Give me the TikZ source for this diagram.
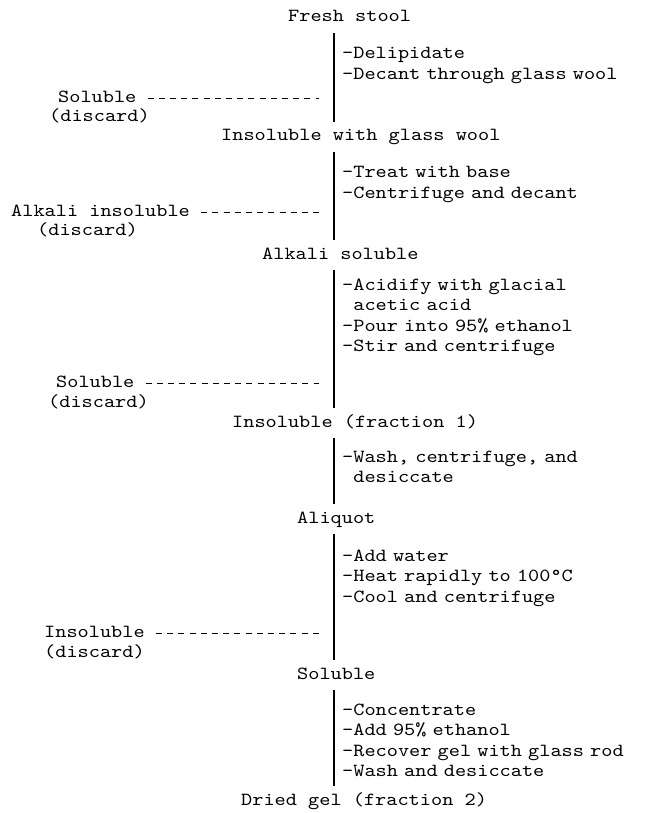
\documentclass[tikz,border=0pt]{standalone}
\usepackage{fontspec}
\newfontfamily\flowfont[Extension=.otf,FakeStretch=1.15]{lmmono10-regular}
\tikzset{
  every node/.style={font=\flowfont\fontsize{18.5}{20.5}\selectfont, inner sep=0pt, anchor=base west},
  stage/.style={inner ysep=7pt, text height=12pt, text depth=4pt},
  steps/.style={text width=310pt, align=left},
  waste/.style={text height=12pt, text depth=4pt},
  spine/.style={line width=1.1pt},
  drain/.style={line width=1pt, dash pattern=on 6pt off 5.2pt, shorten <=11pt, shorten >=15pt}
}
\begin{document}
\begin{tikzpicture}[x=1pt,y=-1pt]
\useasboundingbox (0,0) rectangle (652,813);
\coordinate (spine) at (334,0);
% stages
\node[stage] (fresh) at (288,22) {Fresh stool};
\node[stage] (wool) at (221,141) {Insoluble with glass wool};
\node[stage] (alksol) at (262,259) {Alkali soluble};
\node[stage] (frac1) at (232,427) {Insoluble (fraction 1)};
\node[stage] (aliquot) at (297,523) {Aliquot};
\node[stage] (hotsol) at (297,679) {Soluble};
\node[stage] (frac2) at (241,805) {Dried gel (fraction 2)};
% treatments
\node[steps] (step1) at (342,59) {-Delipidate\\-Decant through glass wool};
\node[steps] (step2) at (342,178) {-Treat with base\\-Centrifuge and decant};
\node[steps] (step3) at (342,290) {-Acidify with glacial\\\hphantom{-}acetic acid\\-Pour into 95\% ethanol\\-Stir and centrifuge};
\node[steps] (step4) at (342,462) {-Wash, centrifuge, and\\\hphantom{-}desiccate};
\node[steps] (step5) at (342,561) {-Add water\\-Heat rapidly to 100°C\\-Cool and centrifuge};
\node[steps] (step6) at (342,715) {-Concentrate\\-Add 95\% ethanol\\-Recover gel with glass rod\\-Wash and desiccate};
% discarded parts
\node[waste] (sol1) at (58,103) {Soluble};
\node[waste] (dis1) at (49,122) {(discard)};
\node[waste] (alkins) at (11,216) {Alkali insoluble};
\node[waste] (dis2) at (37,235) {(discard)};
\node[waste] (sol3) at (56,387) {Soluble};
\node[waste] (dis3) at (48,407) {(discard)};
\node[waste] (ins5) at (44,637) {Insoluble};
\node[waste] (dis5) at (44,657) {(discard)};
% main line
\draw[spine] (fresh.south -| spine) -- (wool.north -| spine);
\draw[spine] (wool.south -| spine) -- (alksol.north -| spine);
\draw[spine] (alksol.south -| spine) -- (frac1.north -| spine);
\draw[spine] (frac1.south -| spine) -- (aliquot.north -| spine);
\draw[spine] (aliquot.south -| spine) -- (hotsol.north -| spine);
\draw[spine] (hotsol.south -| spine) -- (frac2.north -| spine);
% side lines
\draw[drain] (sol1.east) -- (sol1.east -| spine);
\draw[drain] (alkins.east) -- (alkins.east -| spine);
\draw[drain] (sol3.east) -- (sol3.east -| spine);
\draw[drain] (ins5.east) -- (ins5.east -| spine);
\end{tikzpicture}
\end{document}
